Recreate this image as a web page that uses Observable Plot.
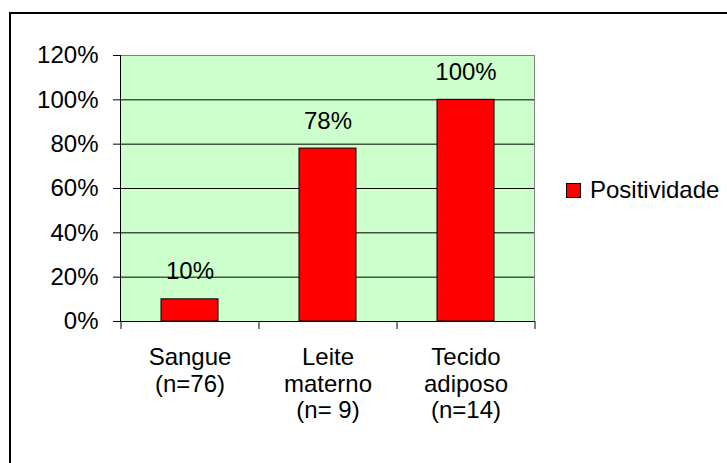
<!DOCTYPE html>
<html><head><meta charset="utf-8">
<script src="https://cdn.jsdelivr.net/npm/d3@7"></script>
<script src="https://cdn.jsdelivr.net/npm/@observablehq/plot@0.6"></script>
<style>
body{margin:0;background:#fff;overflow:hidden}
#wrap{position:relative;width:727px;height:463px;font-family:"Liberation Sans",Arial,sans-serif;overflow:hidden}
#chart{position:absolute;left:0;top:0}
#border{position:absolute;left:9px;top:12px;width:760px;height:500px;border:2px solid #000;box-sizing:border-box;pointer-events:none}
#legend{position:absolute;left:566px;top:176px;font-size:24px;line-height:28px;display:flex;align-items:center;white-space:nowrap;color:#000}
.sw{display:inline-block;width:13px;height:13px;background:#f00;border:1px solid #000;margin-right:9px}
</style></head>
<body><div id="wrap"><div id="chart"></div><div id="border"></div><div id="legend"><span class="sw"></span><span id="legtext"></span></div></div>
<script>
const categories = ["Sangue\n(n=76)", "Leite\nmaterno\n(n= 9)", "Tecido\nadiposo\n(n=14)"];
const values = [0.10, 0.78, 1.00];
const yTicks = [0, 0.2, 0.4, 0.6, 0.8, 1.0, 1.2];
const seriesName = "Positividade";

const data = categories.map((c, i) => ({category: c, value: values[i]}));
const pct = d3.format(".0%");

const W = 727, H = 463, mL = 120, mR = 193, mT = 55, mB = 142;
const halfStep = (W - mL - mR) / categories.length / 2;

const chart = Plot.plot({
  width: W, height: H,
  marginLeft: mL, marginRight: mR, marginTop: mT, marginBottom: mB,
  style: {fontSize: "24px", fontFamily: "'Liberation Sans', Arial, sans-serif", background: "transparent", color: "#000", overflow: "visible"},
  x: {type: "band", domain: categories, paddingInner: 0.59, paddingOuter: 0.295, label: null},
  y: {domain: [0, 1.2], label: null},
  marks: [
    Plot.frame({fill: "#CCFFCC", stroke: "#808080"}),
    Plot.ruleY(yTicks.slice(1, -1), {stroke: "#000", strokeWidth: 1}),
    Plot.barY(data, {x: "category", y: "value", fill: "#FF0000", stroke: "#000", strokeWidth: 1}),
    Plot.text(data, {x: "category", y: "value", text: d => pct(d.value), lineAnchor: "bottom", dy: -20, fill: "#000", fontSize: 24}),
    Plot.ruleY([0], {stroke: "#000"}),
    Plot.frame({anchor: "left", stroke: "#000"}),
    Plot.axisY({ticks: yTicks, tickFormat: pct, tickSize: 7, tickPadding: 15, label: null, fontSize: 24}),
    Plot.axisX({tickSize: 8, dx: -halfStep, tickFormat: () => "", label: null}),
    Plot.axisX({ticks: [categories[categories.length - 1]], tickSize: 8, dx: halfStep, tickFormat: () => "", label: null}),
    Plot.axisX({tickSize: 0, tickPadding: 25, lineHeight: 1.1, label: null, fontSize: 24})
  ]
});
document.getElementById("chart").appendChild(chart);
document.getElementById("legtext").textContent = seriesName;
</script>
</body></html>
